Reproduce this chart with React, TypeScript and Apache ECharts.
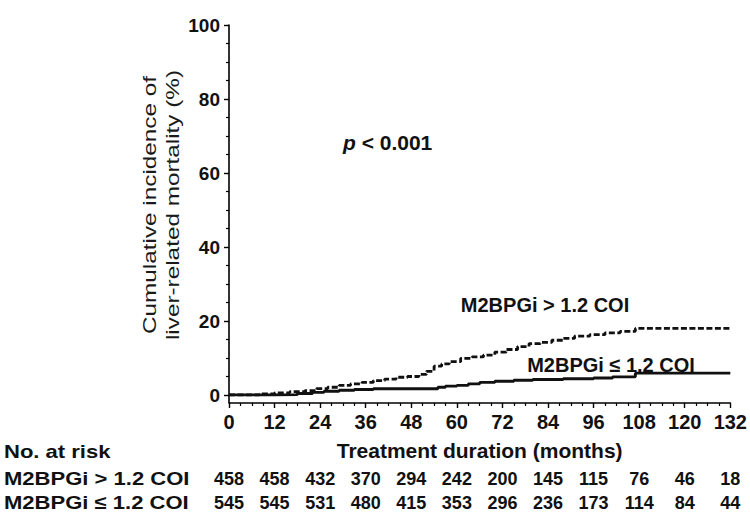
import React, { useEffect, useRef } from "react";
import * as echarts from "echarts";

// ---- data ----
const monthTicks = [0, 12, 24, 36, 48, 60, 72, 84, 96, 108, 120, 132];
const riskHigh = [458, 458, 432, 370, 294, 242, 200, 145, 115, 76, 46, 18];
const riskLow = [545, 545, 531, 480, 415, 353, 296, 236, 173, 114, 84, 44];

const monthsHigh = [0, 8, 12, 16, 20, 23, 26, 29, 32, 35, 38, 41, 44, 47, 50, 52, 54, 56, 58, 61, 64, 67, 70, 73, 76, 79, 82, 85, 88, 91, 95, 99, 103, 107, 132];
const incHigh = [0, 0.3, 0.6, 0.9, 1.2, 1.7, 2.1, 2.6, 3.0, 3.4, 3.9, 4.3, 4.8, 5.0, 5.6, 6.4, 7.8, 8.4, 9.0, 9.9, 10.3, 10.8, 11.6, 12.3, 13.1, 13.9, 14.2, 14.8, 15.3, 15.9, 16.3, 16.8, 17.2, 18.0, 18.0];

const monthsLow = [0, 12, 18, 22, 25, 29, 33, 38, 55, 57, 60, 63, 66, 70, 75, 80, 88, 96, 101, 107, 132];
const incLow = [0, 0.1, 0.4, 0.7, 1.0, 1.3, 1.5, 1.7, 2.1, 2.4, 2.6, 3.0, 3.4, 3.7, 4.0, 4.2, 4.4, 4.6, 4.9, 5.9, 5.9];

const groupHigh = "M2BPGi > 1.2 COI";
const groupLow = "M2BPGi \u2264 1.2 COI";
const yTitle = "Cumulative incidence of\nliver-related mortality (%)";
const xTitle = "Treatment duration (months)";

const FONT = "'Liberation Sans', Arial, Helvetica, sans-serif";
const INK = "#111";

const G = { left: 229, top: 25, width: 504, height: 370 };

export default function App() {
  const ref = useRef<HTMLDivElement>(null);
  useEffect(() => {
    if (!ref.current) return;
    const chart = echarts.init(ref.current, undefined, { renderer: "svg" });
    const xMin = monthTicks[0];
    const xMax = monthTicks[monthTicks.length - 1];
    const step = monthTicks[1] - monthTicks[0];
    const riskAxis = (arr: number[], offset: number) => ({
      type: "value",
      min: xMin,
      max: xMax,
      interval: step,
      position: "bottom",
      offset,
      axisLine: { show: false, onZero: false },
      axisTick: { show: false },
      splitLine: { show: false },
      axisLabel: {
        margin: 0,
        color: INK,
        fontFamily: FONT,
        fontWeight: "bold",
        fontSize: 18,
        formatter: (v: number) => {
          const i = monthTicks.indexOf(Math.round(v));
          return i >= 0 ? String(arr[i]) : "";
        },
      },
    });
    const rowText = (text: string, y: number) => ({
      type: "text",
      x: 4,
      y,
      scaleX: 1.16,
      style: { text, fill: INK, fontFamily: FONT, fontWeight: "bold", fontSize: 19, align: "left", verticalAlign: "middle" },
    });
    chart.setOption({
      animation: false,
      backgroundColor: "#fff",
      grid: { ...G, containLabel: false },
      xAxis: [
        {
          type: "value",
          min: xMin,
          max: xMax,
          interval: step,
          position: "bottom",
          offset: 8,
          axisLine: { onZero: false, lineStyle: { color: "#000", width: 1.6 } },
          axisTick: { length: 5, lineStyle: { color: "#000", width: 1.4 } },
          minorTick: { show: true, splitNumber: 4, length: 3, lineStyle: { color: "#000", width: 1.2 } },
          splitLine: { show: false },
          axisLabel: { margin: 9, color: INK, fontFamily: FONT, fontWeight: "bold", fontSize: 20 },
          name: xTitle,
          nameLocation: "middle",
          nameGap: 37,
          nameTextStyle: { color: INK, fontFamily: FONT, fontWeight: "bold", fontSize: 21 },
        },
        riskAxis(riskHigh, 75),
        riskAxis(riskLow, 99),
      ],
      yAxis: {
        type: "value",
        min: 0,
        max: 100,
        interval: 20,
        axisLine: { show: true, onZero: false, lineStyle: { color: "#000", width: 1.6 } },
        axisTick: { show: true, length: 5, lineStyle: { color: "#000", width: 1.4 } },
        minorTick: { show: true, splitNumber: 4, length: 3, lineStyle: { color: "#000", width: 1.2 } },
        splitLine: { show: false },
        axisLabel: { margin: 9, color: INK, fontFamily: FONT, fontWeight: "bold", fontSize: 19 },
      },
      series: [
        {
          name: groupHigh,
          type: "line",
          step: "end",
          showSymbol: false,
          symbol: "none",
          data: monthsHigh.map((m, i) => [m, incHigh[i]]),
          lineStyle: { color: INK, width: 2.8, type: [6, 2.5] },
          z: 3,
        },
        {
          name: groupLow,
          type: "line",
          step: "end",
          showSymbol: false,
          symbol: "none",
          data: monthsLow.map((m, i) => [m, incLow[i]]),
          lineStyle: { color: INK, width: 2.9, type: "solid" },
          z: 4,
        },
      ],
      graphic: [
        {
          type: "line",
          shape: { x1: G.left, y1: G.top + G.height, x2: G.left, y2: G.top + G.height + 8 },
          style: { stroke: "#000", lineWidth: 1.6 },
        },
        {
          type: "text",
          x: 161,
          y: 205,
          rotation: Math.PI / 2,
          scaleX: 1.28,
          style: {
            text: yTitle,
            fill: "#1a1a1a",
            fontFamily: FONT,
            fontSize: 19,
            lineHeight: 23,
            align: "center",
            verticalAlign: "middle",
          },
        },
        {
          type: "text",
          x: 343,
          y: 142,
          style: {
            text: "{i|p} < 0.001",
            fill: INK,
            fontFamily: FONT,
            fontWeight: "bold",
            fontSize: 21,
            align: "left",
            verticalAlign: "middle",
            rich: { i: { fontStyle: "italic", fontWeight: "bold", fontSize: 21, fontFamily: FONT, fill: INK } },
          },
        },
        {
          type: "text",
          x: 545,
          y: 305,
          style: { text: groupHigh, fill: INK, fontFamily: FONT, fontWeight: "bold", fontSize: 20, align: "center", verticalAlign: "middle" },
        },
        {
          type: "text",
          x: 611,
          y: 365,
          style: { text: groupLow, fill: INK, fontFamily: FONT, fontWeight: "bold", fontSize: 20, align: "center", verticalAlign: "middle" },
        },
        rowText("No. at risk", 451),
        rowText(groupHigh, 478),
        rowText(groupLow, 502),
      ],
    });
    return () => chart.dispose();
  }, []);
  return (
    <div
      ref={ref}
      style={{ position: "fixed", left: 0, top: 0, width: 750, height: 519, background: "#fff" }}
    />
  );
}
